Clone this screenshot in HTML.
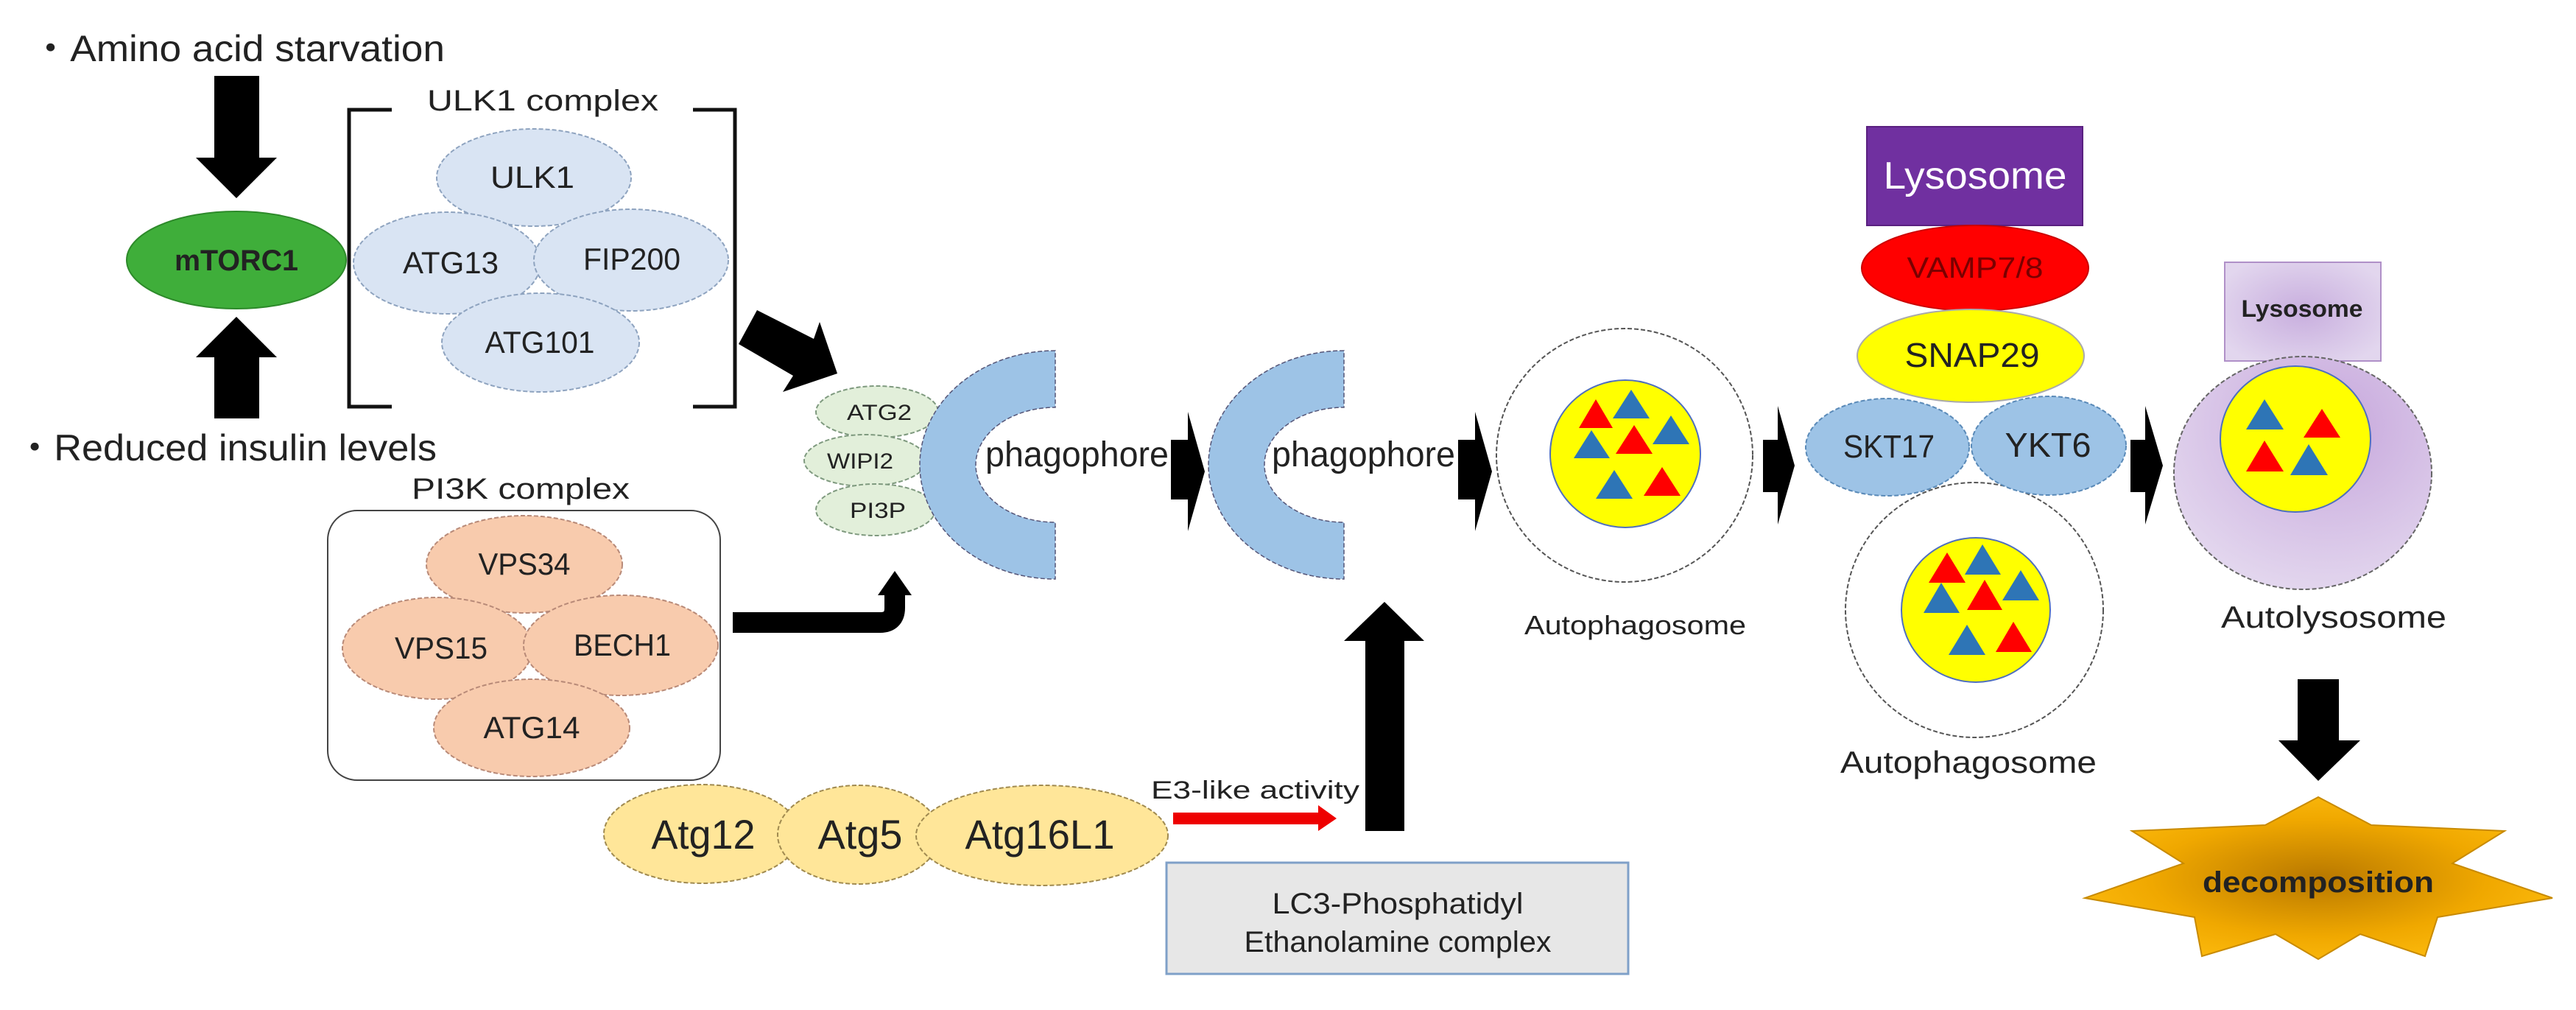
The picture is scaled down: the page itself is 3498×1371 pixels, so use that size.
<!DOCTYPE html>
<html><head><meta charset="utf-8"><style>html,body{margin:0;padding:0;background:#fff}svg{display:block}text{font-family:"Liberation Sans",sans-serif;fill:#222}</style></head><body>
<svg width="3498" height="1371" viewBox="0 0 3498 1371" xmlns="http://www.w3.org/2000/svg">
<defs>
<radialGradient id="lg" cx="0.6" cy="0.3" r="0.8"><stop offset="0" stop-color="#c6a6dc"/><stop offset="1" stop-color="#e6dcf0"/></radialGradient>
<radialGradient id="sg" cx="0.5" cy="0.5" r="0.6"><stop offset="0" stop-color="#b87800"/><stop offset="0.6" stop-color="#f0a800"/><stop offset="1" stop-color="#ffbe10"/></radialGradient>
<radialGradient id="bx" cx="0.5" cy="0.5" r="0.6"><stop offset="0" stop-color="#c8aede"/><stop offset="1" stop-color="#e2d6ee"/></radialGradient>
</defs>
<g lengthAdjust="spacingAndGlyphs">
<text x="42" y="83" font-size="50" textLength="562" lengthAdjust="spacingAndGlyphs">・Amino acid starvation</text>
<text x="21" y="625" font-size="50" textLength="572" lengthAdjust="spacingAndGlyphs">・Reduced insulin levels</text>
</g>

<polygon points="291,103 352,103 352,214 376,214 321,269 266,214 291,214" fill="#000"/>
<polygon points="291,568 352,568 352,485 376,485 321,430 266,485 291,485" fill="#000"/>

<ellipse cx="321" cy="353" rx="149" ry="66" fill="#3fae3a" stroke="#2d8a2a" stroke-width="2"/>
<text x="321" y="367" font-size="40" font-weight="bold" text-anchor="middle" textLength="168" lengthAdjust="spacingAndGlyphs">mTORC1</text>

<polyline points="532,149 474,149 474,552 532,552" fill="none" stroke="#111" stroke-width="5"/>
<polyline points="941,149 998,149 998,552 941,552" fill="none" stroke="#111" stroke-width="5"/>
<text x="580" y="150" font-size="40" textLength="314" lengthAdjust="spacingAndGlyphs">ULK1 complex</text>
<g fill="#d9e4f3" stroke="#8ea3bf" stroke-width="2" stroke-dasharray="6,3">
<ellipse cx="725" cy="241" rx="132" ry="66"/>
<ellipse cx="607" cy="357" rx="127" ry="69"/>
<ellipse cx="857" cy="353" rx="132" ry="69"/>
<ellipse cx="734" cy="465" rx="134" ry="67"/>
</g>
<g font-size="42" text-anchor="middle">
<text x="723" y="255" textLength="114" lengthAdjust="spacingAndGlyphs">ULK1</text>
<text x="612" y="371" textLength="130" lengthAdjust="spacingAndGlyphs">ATG13</text>
<text x="858" y="366" textLength="132" lengthAdjust="spacingAndGlyphs">FIP200</text>
<text x="733" y="479" textLength="149" lengthAdjust="spacingAndGlyphs">ATG101</text>
</g>

<polygon points="1028,421 1105,460 1113,437 1137,507 1063,532 1077,510 1003,467" fill="#000"/>

<text x="559" y="677" font-size="40" textLength="296" lengthAdjust="spacingAndGlyphs">PI3K complex</text>
<rect x="445" y="693" width="533" height="366" rx="40" fill="#fff" stroke="#444" stroke-width="2"/>
<g fill="#f8cbad" stroke="#b88a78" stroke-width="2" stroke-dasharray="6,3">
<ellipse cx="712" cy="766" rx="133" ry="66"/>
<ellipse cx="594" cy="880" rx="129" ry="69"/>
<ellipse cx="843" cy="876" rx="132" ry="68"/>
<ellipse cx="722" cy="988" rx="133" ry="66"/>
</g>
<g font-size="42" text-anchor="middle">
<text x="712" y="780" textLength="125" lengthAdjust="spacingAndGlyphs">VPS34</text>
<text x="599" y="894" textLength="126" lengthAdjust="spacingAndGlyphs">VPS15</text>
<text x="845" y="890" textLength="132" lengthAdjust="spacingAndGlyphs">BECH1</text>
<text x="722" y="1002" textLength="131" lengthAdjust="spacingAndGlyphs">ATG14</text>
</g>

<path d="M995,845 L1195,845 Q1215,845 1215,825 L1215,805" fill="none" stroke="#000" stroke-width="28"/>
<polygon points="1192,808 1238,808 1215,775" fill="#000"/>

<g fill="#e2efda" stroke="#7f9a7f" stroke-width="2" stroke-dasharray="6,3">
<ellipse cx="1191" cy="559" rx="83" ry="35"/>
<ellipse cx="1175" cy="625" rx="83" ry="35"/>
<ellipse cx="1189" cy="692" rx="81" ry="35"/>
</g>
<g font-size="30" text-anchor="middle">
<text x="1194" y="570" textLength="88" lengthAdjust="spacingAndGlyphs">ATG2</text>
<text x="1168" y="636" textLength="90" lengthAdjust="spacingAndGlyphs">WIPI2</text>
<text x="1192" y="703" textLength="76" lengthAdjust="spacingAndGlyphs">PI3P</text>
</g>

<path d="M1433,476 A184,155 0 0 0 1433,786 L1433,709 A108,78 0 0 1 1433,553 Z" fill="#9dc3e6" stroke="#557" stroke-width="1.5" stroke-dasharray="6,3"/>
<text x="1338" y="633" font-size="48" textLength="249" lengthAdjust="spacingAndGlyphs">phagophore</text>
<polygon points="1590,597 1613,597 1613,559 1636,640 1613,721 1613,678 1590,678" fill="#000"/>
<path d="M1825,476 A184,155 0 0 0 1825,786 L1825,709 A108,78 0 0 1 1825,553 Z" fill="#9dc3e6" stroke="#557" stroke-width="1.5" stroke-dasharray="6,3"/>
<text x="1727" y="633" font-size="48" textLength="249" lengthAdjust="spacingAndGlyphs">phagophore</text>
<polygon points="1980,597 2003,597 2003,559 2026,640 2003,721 2003,678 1980,678" fill="#000"/>

<ellipse cx="2206" cy="618" rx="174" ry="172" fill="#fff" stroke="#555" stroke-width="2" stroke-dasharray="6,3"/>
<ellipse cx="2207" cy="616" rx="102" ry="100" fill="#ffff00" stroke="#4f6fbf" stroke-width="2"/>
<polygon points="2144,581 2167,542 2190,581" fill="#ff0000"/>
<polygon points="2190,568 2215,529 2240,568" fill="#2e75b6"/>
<polygon points="2244,603 2269,564 2294,603" fill="#2e75b6"/>
<polygon points="2137,622 2161,584 2186,622" fill="#2e75b6"/>
<polygon points="2194,616 2219,577 2244,616" fill="#ff0000"/>
<polygon points="2167,677 2192,638 2217,677" fill="#2e75b6"/>
<polygon points="2232,673 2257,634 2282,673" fill="#ff0000"/>
<text x="2070" y="861" font-size="36" textLength="301" lengthAdjust="spacingAndGlyphs">Autophagosome</text>
<polygon points="2394,597 2414,597 2414,551 2437,632 2414,712 2414,668 2394,668" fill="#000"/>

<rect x="2535" y="172" width="293" height="134" fill="#7030a0" stroke="#5a2080" stroke-width="2"/>
<text x="2682" y="256" font-size="52" text-anchor="middle" textLength="249" lengthAdjust="spacingAndGlyphs" style="fill:#fff">Lysosome</text>
<ellipse cx="2682" cy="364" rx="154" ry="58" fill="#ff0000" stroke="#c00" stroke-width="2"/>
<text x="2682" y="377" font-size="40" text-anchor="middle" textLength="185" lengthAdjust="spacingAndGlyphs" style="fill:#7a0000">VAMP7/8</text>
<ellipse cx="2676" cy="483" rx="154" ry="63" fill="#ffff00" stroke="#aaa" stroke-width="2"/>
<text x="2678" y="498" font-size="46" text-anchor="middle" textLength="183" lengthAdjust="spacingAndGlyphs">SNAP29</text>
<ellipse cx="2681" cy="828" rx="175" ry="173" fill="#fff" stroke="#555" stroke-width="2" stroke-dasharray="6,3"/>
<ellipse cx="2683" cy="828" rx="101" ry="98" fill="#ffff00" stroke="#4f6fbf" stroke-width="2"/>
<g fill="#9dc3e6" stroke="#5a8ab8" stroke-width="2" stroke-dasharray="6,3">
<ellipse cx="2563" cy="607" rx="111" ry="66"/>
<ellipse cx="2782" cy="605" rx="105" ry="67"/>
</g>
<text x="2565" y="621" font-size="44" text-anchor="middle" textLength="124" lengthAdjust="spacingAndGlyphs">SKT17</text>
<text x="2781" y="620" font-size="46" text-anchor="middle" textLength="117" lengthAdjust="spacingAndGlyphs">YKT6</text>
<polygon points="2619,791 2644,750 2669,791" fill="#ff0000"/>
<polygon points="2668,780 2692,739 2717,780" fill="#2e75b6"/>
<polygon points="2719,815 2744,774 2769,815" fill="#2e75b6"/>
<polygon points="2612,832 2636,791 2661,832" fill="#2e75b6"/>
<polygon points="2671,828 2695,787 2719,828" fill="#ff0000"/>
<polygon points="2646,889 2671,848 2696,889" fill="#2e75b6"/>
<polygon points="2710,885 2734,844 2759,885" fill="#ff0000"/>
<text x="2499" y="1049" font-size="42" textLength="348" lengthAdjust="spacingAndGlyphs">Autophagosome</text>
<polygon points="2893,597 2913,597 2913,551 2937,632 2913,712 2913,668 2893,668" fill="#000"/>

<rect x="3021" y="356" width="212" height="134" fill="url(#bx)" stroke="#b090c8" stroke-width="2"/>
<ellipse cx="3127" cy="642" rx="175" ry="158" fill="url(#lg)" stroke="#666" stroke-width="2" stroke-dasharray="6,3"/>
<text x="3126" y="430" font-size="32" font-weight="bold" text-anchor="middle" textLength="165" lengthAdjust="spacingAndGlyphs">Lysosome</text>
<ellipse cx="3117" cy="596" rx="102" ry="99" fill="#ffff00" stroke="#4f6fbf" stroke-width="2"/>
<polygon points="3050,583 3075,542 3101,583" fill="#2e75b6"/>
<polygon points="3128,594 3153,555 3178,594" fill="#ff0000"/>
<polygon points="3050,640 3075,598 3101,640" fill="#ff0000"/>
<polygon points="3110,645 3135,603 3161,645" fill="#2e75b6"/>
<text x="3016" y="852" font-size="42" textLength="306" lengthAdjust="spacingAndGlyphs">Autolysosome</text>

<polygon points="3120,922 3176,922 3176,1005 3205,1005 3148,1060 3094,1005 3120,1005" fill="#000"/>
<polygon points="3148,1082 3220,1120 3401,1128 3330,1172 3466,1219 3310,1245 3293,1298 3205,1268 3148,1302 3090,1268 2990,1298 2980,1245 2831,1219 2965,1172 2895,1128 3076,1120" fill="url(#sg)" stroke="#c88a00" stroke-width="2"/>
<text x="3148" y="1211" font-size="40" font-weight="bold" text-anchor="middle" textLength="314" lengthAdjust="spacingAndGlyphs">decomposition</text>

<g fill="#ffe699" stroke="#a08a50" stroke-width="2" stroke-dasharray="6,3">
<ellipse cx="953" cy="1132" rx="133" ry="67"/>
<ellipse cx="1166" cy="1133" rx="110" ry="67"/>
<ellipse cx="1415" cy="1134" rx="171" ry="68"/>
</g>
<g font-size="56" text-anchor="middle">
<text x="955" y="1152" textLength="141" lengthAdjust="spacingAndGlyphs">Atg12</text>
<text x="1168" y="1152" textLength="115" lengthAdjust="spacingAndGlyphs">Atg5</text>
<text x="1412" y="1152" textLength="203" lengthAdjust="spacingAndGlyphs">Atg16L1</text>
</g>
<text x="1563" y="1084" font-size="34" textLength="283" lengthAdjust="spacingAndGlyphs">E3-like activity</text>
<polygon points="1593,1103 1790,1103 1790,1093 1815,1111 1790,1128 1790,1119 1593,1119" fill="#ee0000"/>
<polygon points="1854,1128 1907,1128 1907,870 1934,870 1880,817 1825,870 1854,870" fill="#000"/>
<rect x="1584" y="1171" width="627" height="151" fill="#e7e7e7" stroke="#7fa0c8" stroke-width="3"/>
<text x="1898" y="1240" font-size="40" text-anchor="middle" textLength="341" lengthAdjust="spacingAndGlyphs">LC3-Phosphatidyl</text>
<text x="1898" y="1292" font-size="40" text-anchor="middle" textLength="417" lengthAdjust="spacingAndGlyphs">Ethanolamine complex</text>
</svg>
</body></html>
